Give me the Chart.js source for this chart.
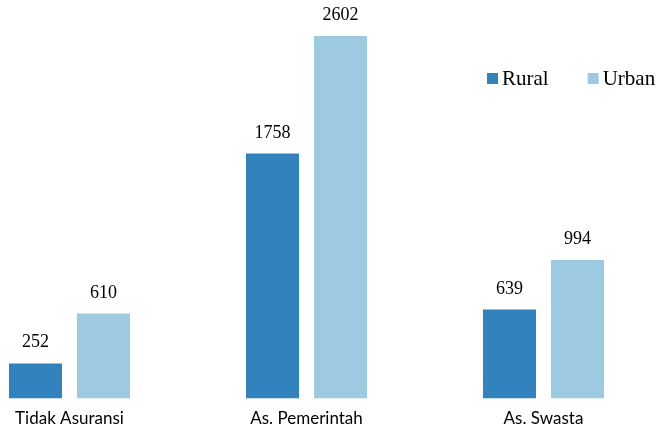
<!DOCTYPE html>
<html>
<head>
<meta charset="utf-8">
<script src="https://cdn.jsdelivr.net/npm/chart.js@4.4.1/dist/chart.umd.min.js"></script>
<style>
html, body { margin: 0; padding: 0; background: #fff; overflow: hidden; }
#wrap { position: absolute; left: -49px; top: 0; width: 711px; height: 431px; }
</style>
</head>
<body>
<div id="wrap"><canvas id="chart"></canvas></div>
<script>
var categories = ['Tidak Asuransi', 'As. Pemerintah', 'As. Swasta'];
var seriesNames = ['Rural', 'Urban'];
var rural = [252, 1758, 639];
var urban = [610, 2602, 994];
var colors = ['#3182bd', '#9ecae1'];

// numbers above each bar
var valueLabels = {
    id: 'valueLabels',
    afterDatasetsDraw: function (chart) {
        var ctx = chart.ctx;
        ctx.save();
        ctx.font = '18px "Liberation Serif"';
        ctx.fillStyle = '#000';
        ctx.textAlign = 'center';
        ctx.textBaseline = 'alphabetic';
        chart.data.datasets.forEach(function (ds, i) {
            var meta = chart.getDatasetMeta(i);
            meta.data.forEach(function (bar, j) {
                ctx.fillText(ds.data[j], bar.x, bar.y - 16);
            });
        });
        ctx.restore();
    }
};

// legend in the top right, one row
var rowLegend = {
    id: 'rowLegend',
    afterDraw: function (chart) {
        var ctx = chart.ctx;
        ctx.save();
        ctx.font = '21px "Liberation Serif"';
        ctx.textBaseline = 'middle';
        ctx.textAlign = 'left';
        var x = 536;
        var y = 79;
        chart.data.datasets.forEach(function (ds) {
            ctx.fillStyle = ds.backgroundColor;
            ctx.fillRect(x, y - 6, 11, 11);
            ctx.fillStyle = '#000';
            ctx.fillText(ds.label, x + 15, y);
            x = x + 15 + ctx.measureText(ds.label).width + 39;
        });
        ctx.restore();
    }
};

var ctx = document.getElementById('chart').getContext('2d');
var chart = new Chart(ctx, {
    type: 'bar',
    data: {
        labels: categories,
        datasets: [
            { label: seriesNames[0], data: rural, backgroundColor: colors[0] },
            { label: seriesNames[1], data: urban, backgroundColor: colors[1] }
        ]
    },
    options: {
        responsive: true,
        maintainAspectRatio: false,
        animation: false,
        layout: { padding: 0 },
        datasets: {
            bar: { categoryPercentage: 0.574, barPercentage: 0.78 }
        },
        plugins: {
            legend: { display: false },
            tooltip: { enabled: false }
        },
        scales: {
            x: {
                grid: { display: false },
                border: { display: false },
                ticks: {
                    color: '#000',
                    padding: 2,
                    font: { family: 'Lato', size: 17 }
                }
            },
            y: {
                display: false,
                min: 0,
                max: 2860
            }
        }
    },
    plugins: [valueLabels, rowLegend]
});
</script>
</body>
</html>
